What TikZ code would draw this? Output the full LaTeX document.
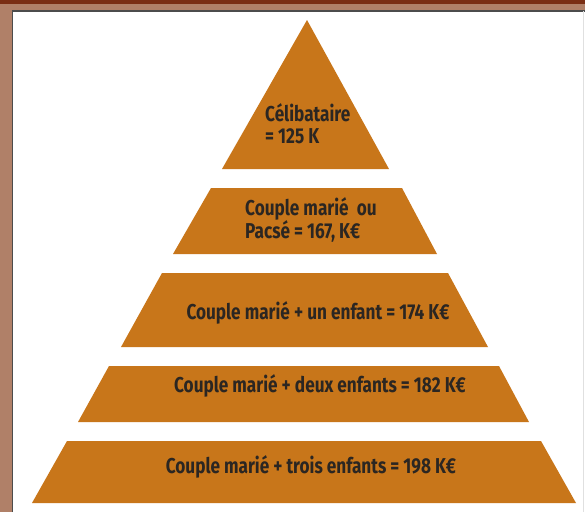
\documentclass[tikz,border=0pt]{standalone}
\usepackage{fontspec}
\setmainfont{Fira Sans}[FakeStretch=0.80]
\definecolor{pyr}{HTML}{C8761A}
\definecolor{frametan}{HTML}{B08068}
\definecolor{framedark}{HTML}{7A2E14}
\definecolor{txt}{HTML}{2B2622}
\begin{document}
\begin{tikzpicture}[x=1pt,y=-1pt,
  level/.style={fill=pyr,draw=none},
  lab/.style={font=\fontsize{21.5}{22}\selectfont\bfseries,text=txt,inner sep=0pt,align=left}]
\useasboundingbox (0,0) rectangle (585,512);
% frame
\fill[frametan] (0,0) rectangle (585,512);
\fill[framedark] (0,0) rectangle (585,3.5);
\fill[white] (12,10.5) rectangle (585,512);
\draw[black!70,line width=1.2pt] (12.5,512) -- (12.5,11) -- (585,11);
\draw[black!12,line width=0.8pt] (583.5,11) -- (583.5,512);
% levels
\fill[level] (307,20) -- (389,169) -- (222,169) -- cycle;
\fill[level] (211,188) -- (402,188) -- (437,254) -- (173,254) -- cycle;
\fill[level] (162,273) -- (448,273) -- (488,347) -- (121,347) -- cycle;
\fill[level] (109,366) -- (499,366) -- (529,422) -- (78,422) -- cycle;
\fill[level] (67,441) -- (541,441) -- (576,503) -- (32,503) -- cycle;
% labels
\node[lab,anchor=west] (l1) at (265,124) {Célibataire\\= 125 K};
\node[lab,anchor=west] (l2) at (245,220) {Couple marié\ \ ou\\Pacsé = 167, K€};
\node[lab] (l3) at (318,313) {Couple marié + un enfant = 174 K€};
\node[lab] (l4) at (320,386) {Couple marié + deux enfants = 182 K€};
\node[lab] (l5) at (311,467) {Couple marié + trois enfants = 198 K€};
\end{tikzpicture}
\end{document}
